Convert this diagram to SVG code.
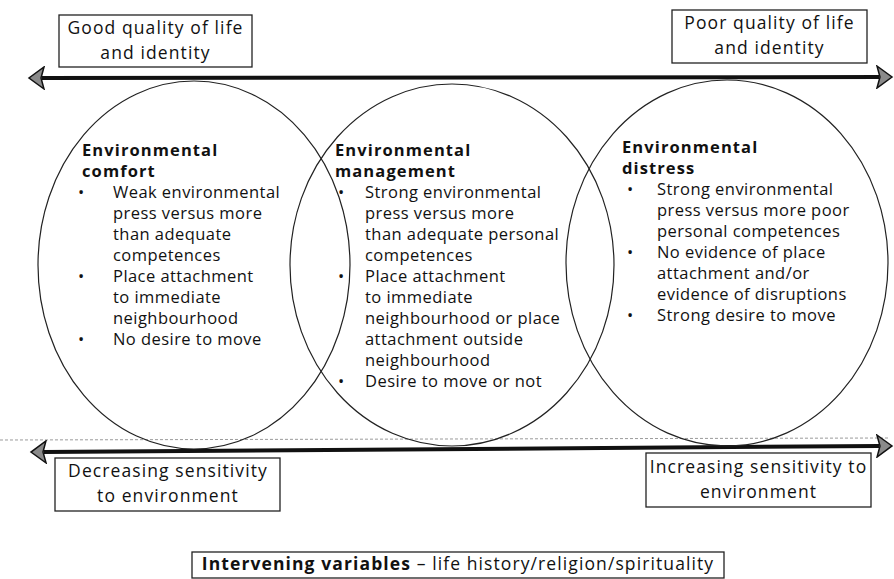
<svg xmlns="http://www.w3.org/2000/svg" width="894" height="579" viewBox="0 0 894 579">
<style>
  text { font-family: "Open Sans", Lato, "Liberation Sans", sans-serif; fill: #111; }
  .lbl { font-size: 17.5px; letter-spacing: 1.1px; text-anchor: middle; }
  .h { font-size: 16.5px; font-weight: 700; letter-spacing: 1.1px; }
  .t { font-size: 16.5px; letter-spacing: 0.45px; }
  .box { fill: #fff; stroke: #222; stroke-width: 1.3; }
  .circ { fill: none; stroke: #222; stroke-width: 1.2; }
  .arrow { stroke: #111; stroke-width: 4; fill: none; }
</style>
<defs>
  <marker id="ah" markerUnits="userSpaceOnUse" markerWidth="18" markerHeight="24" refX="2" refY="11" orient="auto-start-reverse" viewBox="-1 -1 18 24">
    <path d="M0,0 L15,11 L0,22 L3,11 Z" fill="#8a8a8a" stroke="#111" stroke-width="1.5" stroke-linejoin="miter"/>
  </marker>
</defs>
<rect width="894" height="579" fill="#fff"/>

<g id="connectors">
  <line x1="0" y1="440" x2="890" y2="438" stroke="#9a9a9a" stroke-width="1" stroke-dasharray="3 2"/>
  <line class="arrow" x1="42" y1="78" x2="879" y2="77" marker-start="url(#ah)" marker-end="url(#ah)"/>
  <line class="arrow" x1="44" y1="452" x2="879" y2="446" marker-start="url(#ah)" marker-end="url(#ah)"/>
</g>

<g id="comfort">
  <ellipse class="circ" cx="194" cy="265" rx="156" ry="184"/>
  <text class="h" x="82" y="156">Environmental</text>
  <text class="h" x="82" y="177">comfort</text>
  <text class="t" x="78" y="198">•</text>
  <text class="t" x="113" y="198">Weak environmental</text>
  <text class="t" x="113" y="219">press versus more</text>
  <text class="t" x="113" y="240">than adequate</text>
  <text class="t" x="113" y="261">competences</text>
  <text class="t" x="78" y="282">•</text>
  <text class="t" x="113" y="282">Place attachment</text>
  <text class="t" x="113" y="303">to immediate</text>
  <text class="t" x="113" y="324">neighbourhood</text>
  <text class="t" x="78" y="345">•</text>
  <text class="t" x="113" y="345">No desire to move</text>
</g>

<g id="management">
  <ellipse class="circ" cx="452" cy="265" rx="162" ry="181"/>
  <text class="h" x="335" y="156">Environmental</text>
  <text class="h" x="335" y="177">management</text>
  <text class="t" x="338" y="198">•</text>
  <text class="t" x="365" y="198">Strong environmental</text>
  <text class="t" x="365" y="219">press versus more</text>
  <text class="t" x="365" y="240">than adequate personal</text>
  <text class="t" x="365" y="261">competences</text>
  <text class="t" x="338" y="282">•</text>
  <text class="t" x="365" y="282">Place attachment</text>
  <text class="t" x="365" y="303">to immediate</text>
  <text class="t" x="365" y="324">neighbourhood or place</text>
  <text class="t" x="365" y="345">attachment outside</text>
  <text class="t" x="365" y="366">neighbourhood</text>
  <text class="t" x="338" y="387">•</text>
  <text class="t" x="365" y="387">Desire to move or not</text>
</g>

<g id="distress">
  <ellipse class="circ" cx="727" cy="263" rx="161" ry="183"/>
  <text class="h" x="622" y="153">Environmental</text>
  <text class="h" x="622" y="174">distress</text>
  <text class="t" x="627" y="195">•</text>
  <text class="t" x="657" y="195">Strong environmental</text>
  <text class="t" x="657" y="216">press versus more poor</text>
  <text class="t" x="657" y="237">personal competences</text>
  <text class="t" x="627" y="258">•</text>
  <text class="t" x="657" y="258">No evidence of place</text>
  <text class="t" x="657" y="279">attachment and/or</text>
  <text class="t" x="657" y="300">evidence of disruptions</text>
  <text class="t" x="627" y="321">•</text>
  <text class="t" x="657" y="321">Strong desire to move</text>
</g>

<g id="good-quality">
  <rect class="box" x="59" y="15" width="193" height="52"/>
  <text class="lbl" x="155.5" y="34">Good quality of life</text>
  <text class="lbl" x="155.5" y="59">and identity</text>
</g>

<g id="poor-quality">
  <rect class="box" x="672" y="10" width="195" height="53"/>
  <text class="lbl" x="769.5" y="29">Poor quality of life</text>
  <text class="lbl" x="769.5" y="54">and identity</text>
</g>

<g id="decreasing">
  <rect class="box" x="55" y="458" width="225" height="53"/>
  <text class="lbl" x="168" y="477">Decreasing sensitivity</text>
  <text class="lbl" x="168" y="502">to environment</text>
</g>

<g id="increasing">
  <rect class="box" x="646" y="453" width="225" height="54"/>
  <text class="lbl" x="758.5" y="473">Increasing sensitivity to</text>
  <text class="lbl" x="758.5" y="498">environment</text>
</g>

<g id="intervening">
  <rect class="box" x="192" y="552" width="532" height="26"/>
  <text class="lbl" x="458" y="570"><tspan font-weight="700">Intervening variables</tspan> – life history/religion/spirituality</text>
</g>
</svg>
